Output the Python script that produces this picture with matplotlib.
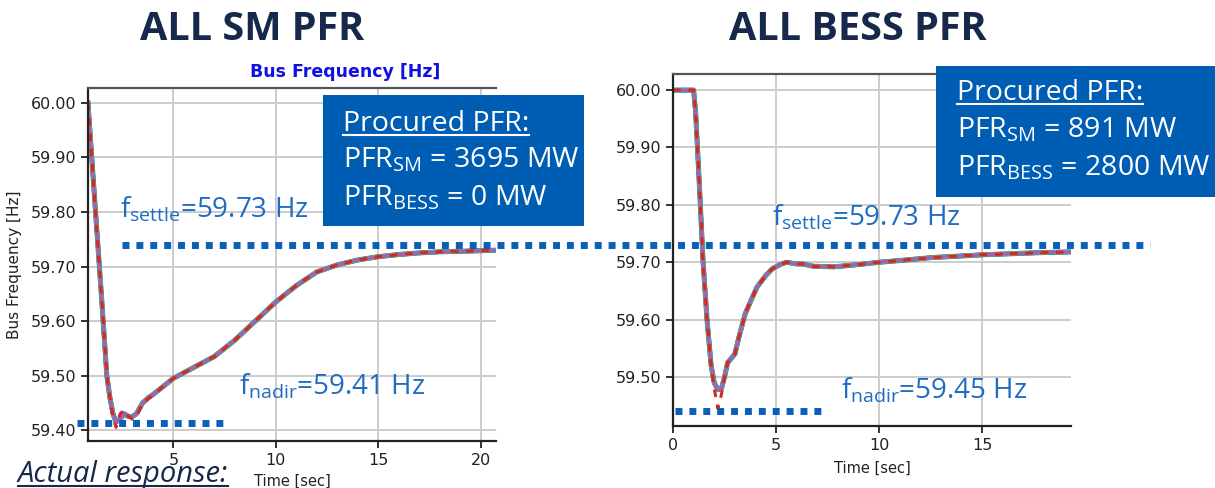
import numpy as np
import matplotlib.pyplot as plt
from matplotlib.patches import Rectangle
from matplotlib.transforms import blended_transform_factory

# ---- data ----
sm_time = [0.83, 1.2, 1.5, 1.75, 1.9, 2.05, 2.2, 2.4, 2.6, 2.8, 3.0, 3.2, 3.5, 3.8,
           4.0, 4.5, 5.0, 6.0, 7.0, 8.0, 9.0, 10.0, 11.0, 12.0, 13.0, 14.0, 15.0,
           16.0, 17.0, 18.0, 19.0, 20.0, 20.75]
sm_freq = [60.00, 59.80, 59.64, 59.50, 59.46, 59.43, 59.415, 59.42, 59.43, 59.425,
           59.425, 59.43, 59.45, 59.46, 59.465, 59.48, 59.495, 59.515, 59.535, 59.565,
           59.60, 59.635, 59.665, 59.69, 59.703, 59.712, 59.718, 59.722, 59.725,
           59.727, 59.728, 59.729, 59.73]
sm_freq_red = [60.00, 59.80, 59.64, 59.50, 59.46, 59.425, 59.405, 59.43, 59.437, 59.425,
               59.42, 59.425, 59.45, 59.458, 59.465, 59.48, 59.495, 59.515, 59.535, 59.565,
               59.60, 59.635, 59.665, 59.69, 59.703, 59.712, 59.718, 59.722, 59.725,
               59.727, 59.728, 59.729, 59.73]

bess_time = [0.0, 0.5, 1.0, 1.1, 1.3, 1.46, 1.65, 1.85, 2.0, 2.18, 2.35, 2.5, 2.65,
             3.0, 3.2, 3.5, 3.8, 4.08, 4.5, 4.83, 5.2, 5.5, 6.0, 6.3, 6.8, 7.8, 9.0,
             10.0, 11.0, 12.5, 14.0, 15.0, 16.5, 18.0, 19.3]
bess_freq = [60.00, 60.00, 60.00, 59.96, 59.82, 59.70, 59.60, 59.52, 59.49, 59.478,
             59.48, 59.50, 59.525, 59.54, 59.57, 59.61, 59.635, 59.657, 59.677, 59.689,
             59.696, 59.70, 59.697, 59.697, 59.693, 59.692, 59.696, 59.70, 59.703,
             59.708, 59.711, 59.713, 59.715, 59.717, 59.718]
bess_freq_red = [60.00, 60.00, 60.00, 59.96, 59.82, 59.70, 59.60, 59.52, 59.48, 59.445,
                 59.47, 59.50, 59.525, 59.54, 59.57, 59.61, 59.635, 59.657, 59.677, 59.689,
                 59.696, 59.70, 59.697, 59.697, 59.693, 59.692, 59.696, 59.70, 59.703,
                 59.708, 59.711, 59.713, 59.715, 59.717, 59.718]

f_settle = 59.73
sm_nadir = 59.413
bess_nadir = 59.44

sm_box = ["Procured PFR:", "PFR$_{\\mathregular{SM}}$ = 3695 MW", "PFR$_{\\mathregular{BESS}}$ = 0 MW"]
bess_box = ["Procured PFR:", "PFR$_{\\mathregular{SM}}$ = 891 MW", "PFR$_{\\mathregular{BESS}}$ = 2800 MW"]

under_colors = ["tab:blue", "tab:green", "#bcbd22", "tab:purple"]
under_widths = [3.6, 3.2, 2.8, 2.6]

NAVY = "#16294a"
BOXBLUE = "#005db4"
ANNBLUE = "#1f6cc2"
DOTBLUE = "#0a5fb8"
TXT = "Open Sans"

plt.rcParams['mathtext.fontset'] = 'custom'
plt.rcParams['mathtext.rm'] = TXT

fig = plt.figure(figsize=(12.15, 4.88), dpi=100)
ax1 = fig.add_axes([0.0724, 0.0963, 0.3358, 0.7234])
ax2 = fig.add_axes([0.5539, 0.127, 0.3276, 0.7213])


def style_axes(ax):
    ax.grid(True, color="#cccccc", linewidth=1.4)
    ax.set_axisbelow(True)
    for s in ["left", "bottom"]:
        ax.spines[s].set_linewidth(1.6)
        ax.spines[s].set_color("#222222")
    ax.spines["top"].set_color("#555555")
    ax.spines["top"].set_linewidth(1.6)
    ax.spines["right"].set_visible(False)
    ax.tick_params(labelsize=11.5, colors="#222222", length=5, width=1.3)
    ax.yaxis.set_major_formatter(plt.FormatStrFormatter("%.2f"))


for ax, t, f, fr in [(ax1, sm_time, sm_freq, sm_freq_red), (ax2, bess_time, bess_freq, bess_freq_red)]:
    for c, w in zip(under_colors, under_widths):
        ax.plot(t, f, color=c, linewidth=w, solid_joinstyle="round")
    ax.plot(t, fr, color="#d62728", linewidth=2.2, linestyle=(0, (2.5, 2.5)))
    style_axes(ax)

ax1.set_xlim(0.83, 20.75)
ax1.set_ylim(59.38, 60.0275)
ax1.set_xticks([5, 10, 15, 20])
ax1.set_yticks([59.4, 59.5, 59.6, 59.7, 59.8, 59.9, 60.0])
ax1.set_ylabel("Bus Frequency [Hz]", fontsize=11, color="#222222", labelpad=6)
ax1.set_xlabel("Time [sec]", fontsize=10.5, color="#222222", labelpad=4)
ax1.set_title("Bus Frequency [Hz]", fontsize=12.5, fontweight="bold", color="#1010e0", pad=8, x=0.63)

ax2.set_xlim(0, 19.3)
ax2.set_ylim(59.4146, 60.028)
ax2.set_xticks([0, 5, 10, 15])
ax2.set_yticks([59.5, 59.6, 59.7, 59.8, 59.9, 60.0])
ax2.set_xlabel("Time [sec]", fontsize=10.5, color="#222222", labelpad=6)

# dotted reference lines
dot = dict(color=DOTBLUE, linewidth=5, linestyle=(0, (1, 1)), dash_capstyle="butt", clip_on=False, zorder=5)
settle_tr = blended_transform_factory(fig.transFigure, ax2.transData)
ax2.plot([0.1004, 0.9465], [f_settle, f_settle], transform=settle_tr, **dot)
ax1.plot([0.29, 7.5], [sm_nadir, sm_nadir], **dot)
ax2.plot([0.1, 7.2], [bess_nadir, bess_nadir], **dot)

# annotations
ann = dict(fontsize=20, color=ANNBLUE, family=TXT, va="baseline")
fig.text(120 / 1215, 1 - 217 / 488, "f$_{\\mathregular{settle}}$=59.73 Hz", **ann)
fig.text(772 / 1215, 1 - 225 / 488, "f$_{\\mathregular{settle}}$=59.73 Hz", **ann)
fig.text(239 / 1215, 1 - 394 / 488, "f$_{\\mathregular{nadir}}$=59.41 Hz", **ann)
fig.text(841 / 1215, 1 - 398 / 488, "f$_{\\mathregular{nadir}}$=59.45 Hz", **ann)

# titles
fig.text(252 / 1215, 1 - 29 / 488, "ALL SM PFR", fontsize=28.5, fontweight="bold", color=NAVY, family="Open Sans", ha="center", va="center")
fig.text(858 / 1215, 1 - 29 / 488, "ALL BESS PFR", fontsize=28.5, fontweight="bold", color=NAVY, family="Open Sans", ha="center", va="center")

# boxes
fig.patches.append(Rectangle((323 / 1215, 1 - 226 / 488), 261 / 1215, 131 / 488, transform=fig.transFigure, facecolor=BOXBLUE, edgecolor="none", zorder=6))
fig.patches.append(Rectangle((936 / 1215, 1 - 197 / 488), 279 / 1215, 131 / 488, transform=fig.transFigure, facecolor=BOXBLUE, edgecolor="none", zorder=6))

underlined = []
for x0, baselines, lines in [(343, [131, 167, 205], sm_box), (957, [100, 137, 175], bess_box)]:
    for i, (b, s) in enumerate(zip(baselines, lines)):
        t = fig.text(x0 / 1215, 1 - b / 488, s, fontsize=20.5, color="white", family=TXT, va="baseline", zorder=7)
        if i == 0:
            underlined.append((t, "white", 1.5))

ar = fig.text(18 / 1215, 1 - 482 / 488, "Actual response:", fontsize=21, color=NAVY, family=TXT, style="italic", va="baseline")
underlined.append((ar, NAVY, 1.5))

fig.canvas.draw()
r = fig.canvas.get_renderer()
for t, c, lw in underlined:
    bb = t.get_window_extent(r)
    x0, x1 = bb.x0 / fig.bbox.width, bb.x1 / fig.bbox.width
    _, ybase = t.get_position()
    y = ybase - 4 / 488
    fig.add_artist(plt.Line2D([x0, x1], [y, y], transform=fig.transFigure, color=c, linewidth=lw, zorder=8))

fig.savefig("out.png", dpi=100)
